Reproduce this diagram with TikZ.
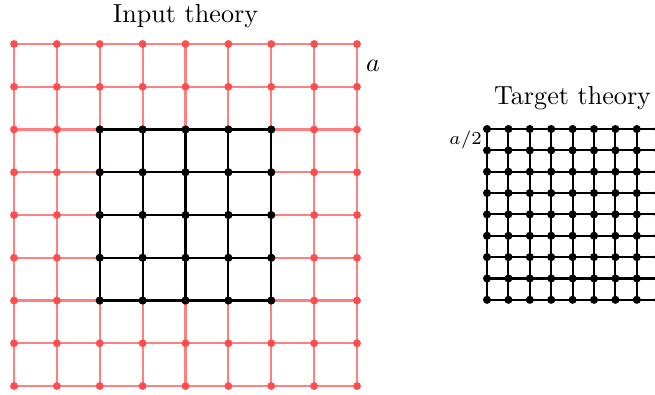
\documentclass[tikz,border=0pt]{standalone}
\usepackage{amsmath}
\usepackage{xcolor}
\usetikzlibrary{positioning, calc}

\begin{document}
\begin{tikzpicture}[
			x=0.383pt, y=-0.383pt,
			redline/.style={red!50, line width=0.8pt},
			redpt/.style={circle, fill=red!70, inner sep=0pt, minimum size=3pt},
			blackline/.style={black, line width=0.8pt},
			blackpt/.style={circle, fill=black, inner sep=0pt, minimum size=3.1pt},
			title/.style={anchor=base, font=\normalsize}
			]
			
			\useasboundingbox (0,0) rectangle (655,394);
			\clip (0,0) rectangle (655,394);
			
			% Coordinates
			\foreach \i in {0,...,8} {
				\foreach \j in {0,...,8} {
					\coordinate (in-\i-\j) at ({14+42.875*\i},{44+42.75*\j});
					\coordinate (tg-\i-\j) at ({487+21.4*\i},{129+21.35*\j});
				}
			}
			
			% Input lattice
			\foreach \k in {0,...,8} {
				\draw[redline] (in-\k-0) -- (in-\k-8);
				\draw[redline] (in-0-\k) -- (in-8-\k);
			}
			\foreach \i in {0,...,8} {
				\foreach \j in {0,...,8} {
					\node[redpt] (inpt-\i-\j) at (in-\i-\j) {};
				}
			}
			
			% Block in the middle
			\foreach \k in {2,...,6} {
				\draw[blackline] (in-\k-2) -- (in-\k-6);
				\draw[blackline] (in-2-\k) -- (in-6-\k);
			}
			\foreach \i in {2,...,6} {
				\foreach \j in {2,...,6} {
					\node[blackpt] (blk-\i-\j) at (in-\i-\j) {};
				}
			}
			
			% Target lattice
			\foreach \k in {0,...,8} {
				\draw[blackline] (tg-\k-0) -- (tg-\k-8);
				\draw[blackline] (tg-0-\k) -- (tg-8-\k);
			}
			\foreach \i in {0,...,8} {
				\foreach \j in {0,...,8} {
					\node[blackpt] (tgpt-\i-\j) at (tg-\i-\j) {};
				}
			}
			
			% Labels
			\node[title] (intitle) at ($(in-0-0)!0.5!(in-8-0)+(0,-22)$) {Input theory};
			\node[title] (tgtitle) at ($(tg-0-0)!0.5!(tg-8-0)+(0,-25)$) {Target theory};
			\node[anchor=west, inner sep=1pt] (alabel) at ($(in-8-0)!0.5!(in-8-1)+(6,0)$) {$a$};
			\node[anchor=east, inner sep=1pt, font=\scriptsize] (hlabel) at ($(tg-0-0)!0.5!(tg-0-1)+(-2,0)$) {$a/2$};
			
		\end{tikzpicture}
\end{document}
